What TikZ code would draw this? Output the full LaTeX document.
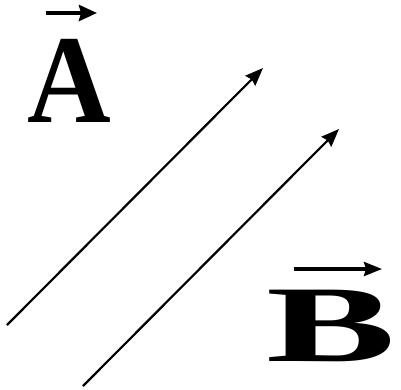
\documentclass[tikz,border=0pt]{standalone}
\usepackage{fontspec}
\setmainfont{Liberation Serif}
\usetikzlibrary{arrows.meta}
\tikzset{
  vec/.style={line width=2.2pt, -{Stealth[length=18pt,width=14pt,inset=2pt]}},
  bar/.style={line width=3.8pt, -{Stealth[length=18pt,width=16pt,inset=2pt]}},
  barb/.style={line width=3.2pt, -{Stealth[length=18pt,width=14pt,inset=2pt]}},
  letter/.style={inner sep=0pt, anchor=base west, font=\bfseries}
}
\begin{document}
\begin{tikzpicture}[x=1pt,y=-1pt]
\useasboundingbox (0,0) rectangle (401,389);
% letters
\node[letter] (A) at (27,122) {\fontsize{126}{126}\selectfont\scalebox{0.92}[1]{A}};
\node[letter] (B) at (266,361) {\fontsize{109}{109}\selectfont\scalebox{1.78}[1]{B}};
% vector bars
\coordinate (a1) at (46,13);
\coordinate (a2) at (97,13);
\draw[bar] (a1) -- (a2);
\coordinate (b1) at (294,269);
\coordinate (b2) at (382,269);
\draw[barb] (b1) -- (b2);
% parallel arrows
\coordinate (p1) at (7,325);
\coordinate (p2) at (263,68);
\coordinate (q1) at (83,386);
\coordinate (q2) at (339,129);
\draw[vec] (p1) -- (p2);
\draw[vec] (q1) -- (q2);
\end{tikzpicture}
\end{document}
